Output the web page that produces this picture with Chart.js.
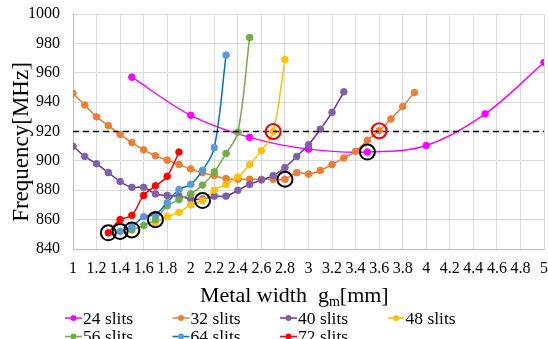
<!DOCTYPE html>
<html lang="en">
<head>
<meta charset="UTF-8">
<title>Frequency vs metal width</title>
<script src="https://cdn.jsdelivr.net/npm/chart.js"></script>
<style>
  html, body { margin: 0; padding: 0; background: #fff; overflow: hidden; }
  #wrap { width: 548px; height: 339px; }
</style>
</head>
<body>
<div id="wrap"><canvas id="chart" width="548" height="339"></canvas></div>
<script>
  // metal width g_m [mm] and frequency [MHz], one pair of arrays per slit count
  const gm24 = [1.5, 2.0, 2.5, 3.0, 3.5, 4.0, 4.5, 5.0];
  const f24  = [957, 931, 916, 908, 906, 910.5, 932, 967];

  const gm32 = [1.0, 1.1, 1.2, 1.3, 1.4, 1.5, 1.6, 1.7, 1.8, 1.9, 2.0, 2.1, 2.2, 2.3, 2.4,
                2.5, 2.6, 2.7, 2.8, 2.9, 3.0, 3.1, 3.2, 3.3, 3.4, 3.5, 3.6, 3.7, 3.8, 3.9];
  const f32  = [946, 938, 930, 924, 918, 912.5, 907.5, 903.5, 900.5, 897.5, 894.5, 892, 890, 888, 887.5,
                887.5, 887.5, 887.5, 887.5, 892, 891, 893.5, 897.5, 902, 906.5, 914, 920.5, 928.5, 937, 946.5];

  const gm40 = [1.0, 1.1, 1.2, 1.3, 1.4, 1.5, 1.6, 1.7, 1.8, 1.9, 2.0, 2.1,
                2.2, 2.3, 2.4, 2.5, 2.6, 2.7, 2.8, 2.9, 3.0, 3.1, 3.2, 3.3];
  const f40  = [910, 903, 898, 892, 886, 882, 882, 877.5, 876.5, 876, 874, 874,
                876, 876, 880, 884, 887, 890, 895.5, 903, 911, 921.5, 933, 947];

  const gm48 = [1.7, 1.8, 1.9, 2.0, 2.1, 2.2, 2.3, 2.4, 2.5, 2.6, 2.7, 2.8];
  const f48  = [858, 862, 865, 870, 873, 880, 884, 889, 897.5, 907, 920, 969];

  const gm56 = [1.5, 1.6, 1.7, 1.8, 1.9, 2.0, 2.1, 2.2, 2.3, 2.4, 2.5];
  const f56  = [853, 856, 860, 869.5, 873.5, 877.5, 883.5, 892.5, 905, 919.5, 984];

  const gm64 = [1.4, 1.5, 1.6, 1.7, 1.8, 1.9, 2.0, 2.1, 2.2, 2.3];
  const f64  = [852, 855, 862, 863.5, 871.5, 880.5, 884, 893.5, 909, 972];

  const gm72 = [1.3, 1.4, 1.5, 1.6, 1.7, 1.8, 1.9];
  const f72  = [851, 860, 863, 876.5, 883, 889.5, 906];

  // target frequency (dashed line) and the marked points
  const targetFreq = 920;
  const blackMarkX = [1.3, 1.4, 1.5, 1.7, 2.1, 2.8, 3.5];
  const blackMarkY = [851, 852, 853, 860, 873, 887.5, 906];
  const redMarkX = [2.7, 3.6];
  const redMarkY = [920, 920.5];

  const seriesNames = ['24 slits', '32 slits', '40 slits', '48 slits', '56 slits', '64 slits', '72 slits'];
  const seriesX = [gm24, gm32, gm40, gm48, gm56, gm64, gm72];
  const seriesY = [f24, f32, f40, f48, f56, f64, f72];
  const lineColors  = ['#FF00FF', '#ED7D31', '#7030A0', '#FFC000', '#70AD47', '#0070C0', '#FF0000'];
  const pointColors = ['#FF00FF', '#ED7D31', '#7F5FA8', '#FFC000', '#70AD47', '#5B9BD5', '#FF0000'];

  const FONT = '"Liberation Serif", "Times New Roman", serif';

  const toPoints = (xs, ys) => xs.map((x, i) => ({ x: x, y: ys[i] }));

  const datasets = [];

  // circles on top
  datasets.push({
    label: 'black marks',
    data: toPoints(blackMarkX, blackMarkY),
    showLine: false,
    pointRadius: 7.5,
    pointBorderWidth: 2,
    pointBorderColor: '#000',
    pointBackgroundColor: 'rgba(0,0,0,0)',
    order: 0
  });
  datasets.push({
    label: 'red marks',
    data: toPoints(redMarkX, redMarkY),
    showLine: false,
    pointRadius: 7.5,
    pointBorderWidth: 2.2,
    pointBorderColor: '#FF0000',
    pointBackgroundColor: 'rgba(0,0,0,0)',
    order: 0
  });
  datasets.push({
    label: 'target',
    data: [{ x: 1, y: targetFreq }, { x: 5, y: targetFreq }],
    borderColor: '#000',
    borderWidth: 1.5,
    borderDash: [6, 4],
    pointRadius: 0,
    order: 1
  });

  seriesNames.forEach((name, i) => {
    datasets.push({
      label: name,
      data: toPoints(seriesX[i], seriesY[i]),
      borderColor: lineColors[i],
      backgroundColor: pointColors[i],
      pointBackgroundColor: pointColors[i],
      pointBorderColor: pointColors[i],
      borderWidth: 1.5,
      pointRadius: 3.3,
      pointBorderWidth: 1,
      tension: 0.35,
      order: 2 + (seriesNames.length - i)
    });
  });

  // axis titles and legend drawn by hand (subscript, fixed column grid)
  const decorations = {
    id: 'decorations',
    afterDraw(chart) {
      const ctx = chart.ctx;
      ctx.save();
      ctx.fillStyle = '#000';

      // y title
      ctx.save();
      ctx.translate(22, 142);
      ctx.rotate(-Math.PI / 2);
      ctx.font = '23px ' + FONT;
      ctx.textAlign = 'center';
      ctx.textBaseline = 'middle';
      ctx.fillText('Frequency[MHz]', 0, 0);
      ctx.restore();

      // x title with subscript
      ctx.textBaseline = 'alphabetic';
      ctx.textAlign = 'left';
      let x = 200;
      const base = 302;
      ctx.font = '22px ' + FONT;
      const part1 = 'Metal width  g';
      ctx.fillText(part1, x, base);
      x += ctx.measureText(part1).width;
      ctx.font = '14px ' + FONT;
      ctx.fillText('m', x, base + 4);
      x += ctx.measureText('m').width;
      ctx.font = '22px ' + FONT;
      ctx.fillText('[mm]', x, base);

      // legend
      ctx.font = '17.5px ' + FONT;
      ctx.textBaseline = 'middle';
      seriesNames.forEach((name, i) => {
        const col = i % 4;
        const row = Math.floor(i / 4);
        const lx = 65 + col * 107.5;
        const ly = 318 + row * 18.5;
        ctx.strokeStyle = lineColors[i];
        ctx.lineWidth = 1.5;
        ctx.beginPath();
        ctx.moveTo(lx, ly);
        ctx.lineTo(lx + 17, ly);
        ctx.stroke();
        ctx.fillStyle = pointColors[i];
        ctx.beginPath();
        ctx.arc(lx + 8.5, ly, 3, 0, Math.PI * 2);
        ctx.fill();
        ctx.fillStyle = '#000';
        ctx.fillText(name, lx + 18, ly + 1);
      });
      ctx.restore();
    }
  };

  // pin the plot area: left 73, right 544, top 14, bottom 249
  const noPad = (scale) => {
    scale.paddingLeft = 0;
    scale.paddingRight = 0;
    scale.paddingTop = 0;
    scale.paddingBottom = 0;
  };

  new Chart(document.getElementById('chart'), {
    type: 'line',
    data: { datasets: datasets },
    options: {
      responsive: false,
      animation: false,
      layout: { autoPadding: false, padding: { top: 14, right: 4, left: 0, bottom: 0 } },
      plugins: {
        legend: { display: false },
        tooltip: { enabled: false }
      },
      scales: {
        x: {
          type: 'linear',
          min: 1,
          max: 5,
          afterFit: (scale) => { scale.height = 90; noPad(scale); },
          grid: { color: '#D9D9D9', lineWidth: 1, drawTicks: false },
          border: { color: '#BFBFBF', width: 1 },
          ticks: {
            stepSize: 0.2,
            autoSkip: false,
            maxRotation: 0,
            padding: 10,
            color: '#000',
            font: { family: FONT, size: 16 },
            callback: (v) => String(Math.round(v * 10) / 10)
          }
        },
        y: {
          min: 840,
          max: 1000,
          afterFit: (scale) => { scale.width = 73; noPad(scale); },
          grid: { color: '#D9D9D9', lineWidth: 1, drawTicks: false },
          border: { color: '#BFBFBF', width: 1 },
          ticks: {
            stepSize: 20,
            padding: 13,
            color: '#000',
            font: { family: FONT, size: 16 },
            callback: (v) => String(v)
          }
        }
      }
    },
    plugins: [decorations]
  });
</script>
</body>
</html>
